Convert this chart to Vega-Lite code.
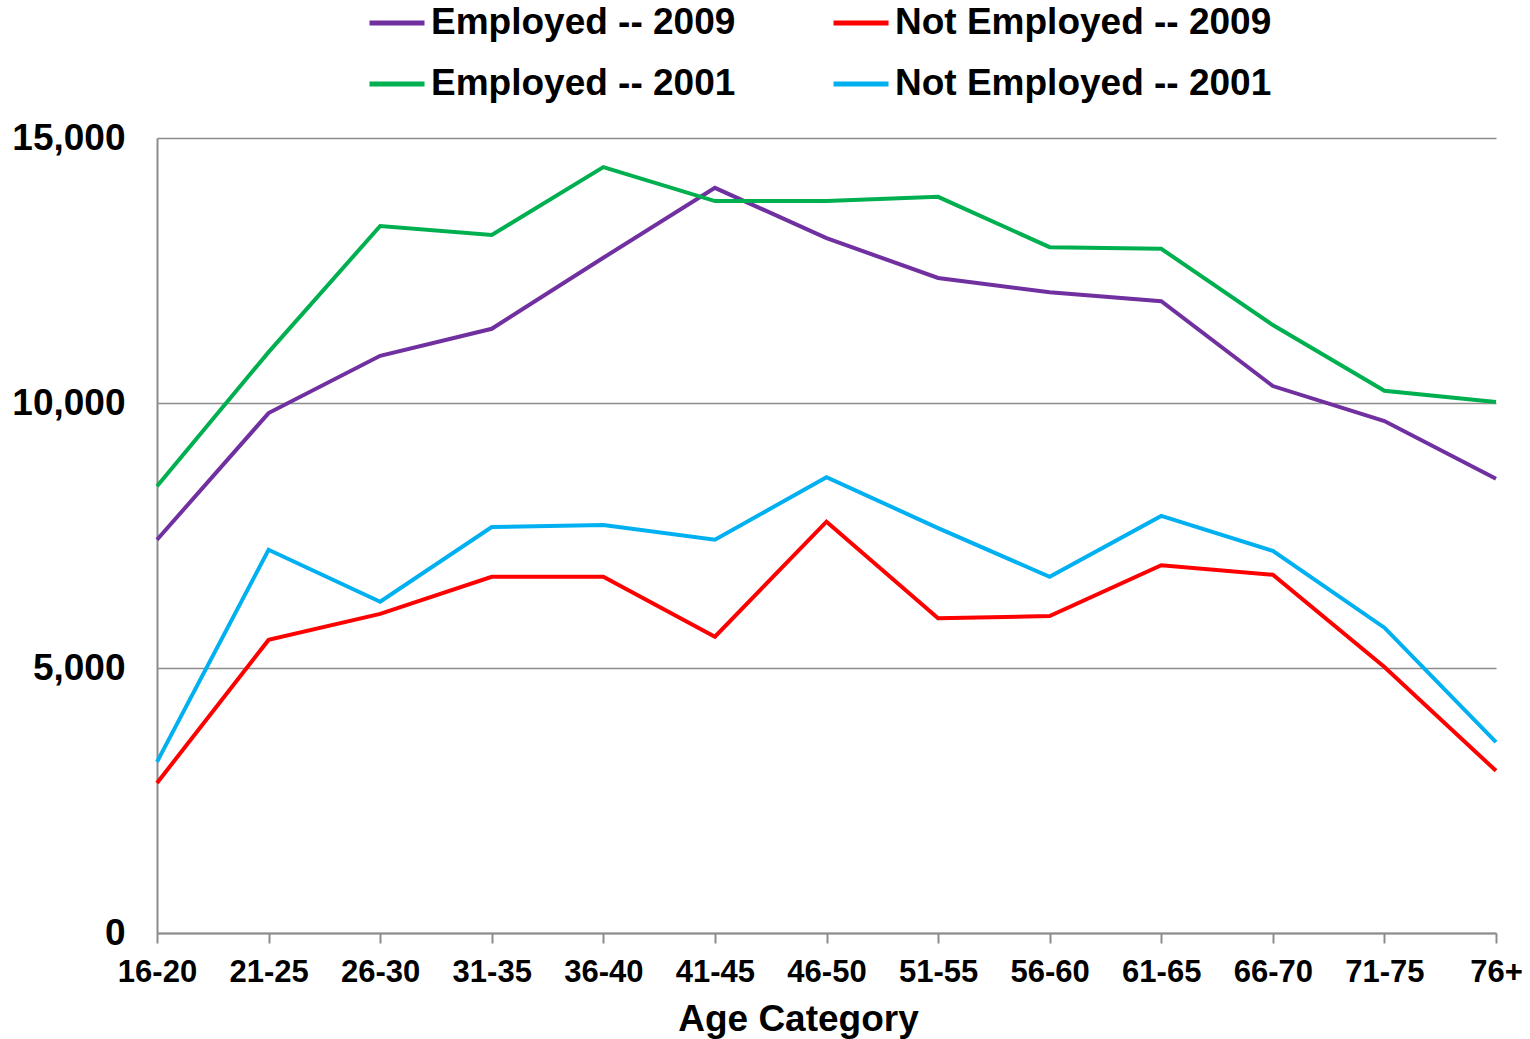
{
  "$schema": "https://vega.github.io/schema/vega-lite/v6.json",
  "width": 1339,
  "height": 795,
  "autosize": {"type": "none"},
  "padding": {"left": 157, "top": 138, "right": 34, "bottom": 106},
  "background": "white",
  "config": {
    "font": "Liberation Sans",
    "view": {"stroke": null}
  },
  "datasets": {
    "rows": [
      {"age": "16-20", "series": "Employed -- 2009", "value": 7420},
      {"age": "21-25", "series": "Employed -- 2009", "value": 9810},
      {"age": "26-30", "series": "Employed -- 2009", "value": 10890},
      {"age": "31-35", "series": "Employed -- 2009", "value": 11400},
      {"age": "36-40", "series": "Employed -- 2009", "value": 12740},
      {"age": "41-45", "series": "Employed -- 2009", "value": 14060},
      {"age": "46-50", "series": "Employed -- 2009", "value": 13110},
      {"age": "51-55", "series": "Employed -- 2009", "value": 12360},
      {"age": "56-60", "series": "Employed -- 2009", "value": 12090},
      {"age": "61-65", "series": "Employed -- 2009", "value": 11920},
      {"age": "66-70", "series": "Employed -- 2009", "value": 10320},
      {"age": "71-75", "series": "Employed -- 2009", "value": 9660},
      {"age": "76+", "series": "Employed -- 2009", "value": 8570},
      {"age": "16-20", "series": "Employed -- 2001", "value": 8430},
      {"age": "21-25", "series": "Employed -- 2001", "value": 10960},
      {"age": "26-30", "series": "Employed -- 2001", "value": 13340},
      {"age": "31-35", "series": "Employed -- 2001", "value": 13170},
      {"age": "36-40", "series": "Employed -- 2001", "value": 14450},
      {"age": "41-45", "series": "Employed -- 2001", "value": 13810},
      {"age": "46-50", "series": "Employed -- 2001", "value": 13810},
      {"age": "51-55", "series": "Employed -- 2001", "value": 13890},
      {"age": "56-60", "series": "Employed -- 2001", "value": 12940},
      {"age": "61-65", "series": "Employed -- 2001", "value": 12910},
      {"age": "66-70", "series": "Employed -- 2001", "value": 11470},
      {"age": "71-75", "series": "Employed -- 2001", "value": 10230},
      {"age": "76+", "series": "Employed -- 2001", "value": 10020},
      {"age": "16-20", "series": "Not Employed -- 2009", "value": 2830},
      {"age": "21-25", "series": "Not Employed -- 2009", "value": 5530},
      {"age": "26-30", "series": "Not Employed -- 2009", "value": 6020},
      {"age": "31-35", "series": "Not Employed -- 2009", "value": 6720},
      {"age": "36-40", "series": "Not Employed -- 2009", "value": 6720},
      {"age": "41-45", "series": "Not Employed -- 2009", "value": 5590},
      {"age": "46-50", "series": "Not Employed -- 2009", "value": 7760},
      {"age": "51-55", "series": "Not Employed -- 2009", "value": 5940},
      {"age": "56-60", "series": "Not Employed -- 2009", "value": 5980},
      {"age": "61-65", "series": "Not Employed -- 2009", "value": 6940},
      {"age": "66-70", "series": "Not Employed -- 2009", "value": 6760},
      {"age": "71-75", "series": "Not Employed -- 2009", "value": 5020},
      {"age": "76+", "series": "Not Employed -- 2009", "value": 3060},
      {"age": "16-20", "series": "Not Employed -- 2001", "value": 3230},
      {"age": "21-25", "series": "Not Employed -- 2001", "value": 7230},
      {"age": "26-30", "series": "Not Employed -- 2001", "value": 6250},
      {"age": "31-35", "series": "Not Employed -- 2001", "value": 7660},
      {"age": "36-40", "series": "Not Employed -- 2001", "value": 7700},
      {"age": "41-45", "series": "Not Employed -- 2001", "value": 7420},
      {"age": "46-50", "series": "Not Employed -- 2001", "value": 8600},
      {"age": "51-55", "series": "Not Employed -- 2001", "value": 7640},
      {"age": "56-60", "series": "Not Employed -- 2001", "value": 6720},
      {"age": "61-65", "series": "Not Employed -- 2001", "value": 7870},
      {"age": "66-70", "series": "Not Employed -- 2001", "value": 7210},
      {"age": "71-75", "series": "Not Employed -- 2001", "value": 5760},
      {"age": "76+", "series": "Not Employed -- 2001", "value": 3600}
    ]
  },
  "data": {"name": "rows"},
  "mark": {"type": "line", "strokeWidth": 4, "strokeJoin": "miter"},
  "encoding": {
    "x": {
      "field": "age",
      "type": "ordinal",
      "sort": null,
      "scale": {"type": "point", "padding": 0},
      "axis": {
        "title": "Age Category",
        "titleFontSize": 37,
        "titleFontWeight": "bold",
        "titleColor": "black",
        "titlePadding": 14,
        "titleX": 641,
        "labelAngle": 0,
        "labelFontSize": 31,
        "labelFontWeight": "bold",
        "labelColor": "black",
        "labelPadding": 14,
        "domainColor": "#8c8c8c",
        "domainWidth": 2,
        "tickColor": "#8c8c8c",
        "tickWidth": 2,
        "tickSize": 10,
        "grid": false
      }
    },
    "y": {
      "field": "value",
      "type": "quantitative",
      "scale": {"domain": [0, 15000]},
      "axis": {
        "title": null,
        "values": [0, 5000, 10000, 15000],
        "format": ",d",
        "labelFontSize": 37,
        "labelFontWeight": "bold",
        "labelColor": "black",
        "labelPadding": 32,
        "ticks": false,
        "domainColor": "#8c8c8c",
        "domainWidth": 2,
        "grid": true,
        "gridColor": "#8c8c8c",
        "gridWidth": 1.5
      }
    },
    "color": {
      "field": "series",
      "type": "nominal",
      "scale": {
        "domain": ["Employed -- 2009", "Not Employed -- 2009", "Employed -- 2001", "Not Employed -- 2001"],
        "range": ["#7030A0", "#FF0000", "#00B050", "#00B0F0"]
      },
      "legend": {
        "title": null,
        "orient": "none",
        "legendX": 210,
        "legendY": -145,
        "direction": "horizontal",
        "columns": 2,
        "columnPadding": 87,
        "rowPadding": 13,
        "symbolType": "stroke",
        "symbolSize": 3025,
        "symbolStrokeWidth": 5,
        "labelFontSize": 37,
        "labelFontWeight": "bold",
        "labelColor": "black",
        "labelOffset": 4,
        "labelLimit": 600
      }
    }
  }
}
